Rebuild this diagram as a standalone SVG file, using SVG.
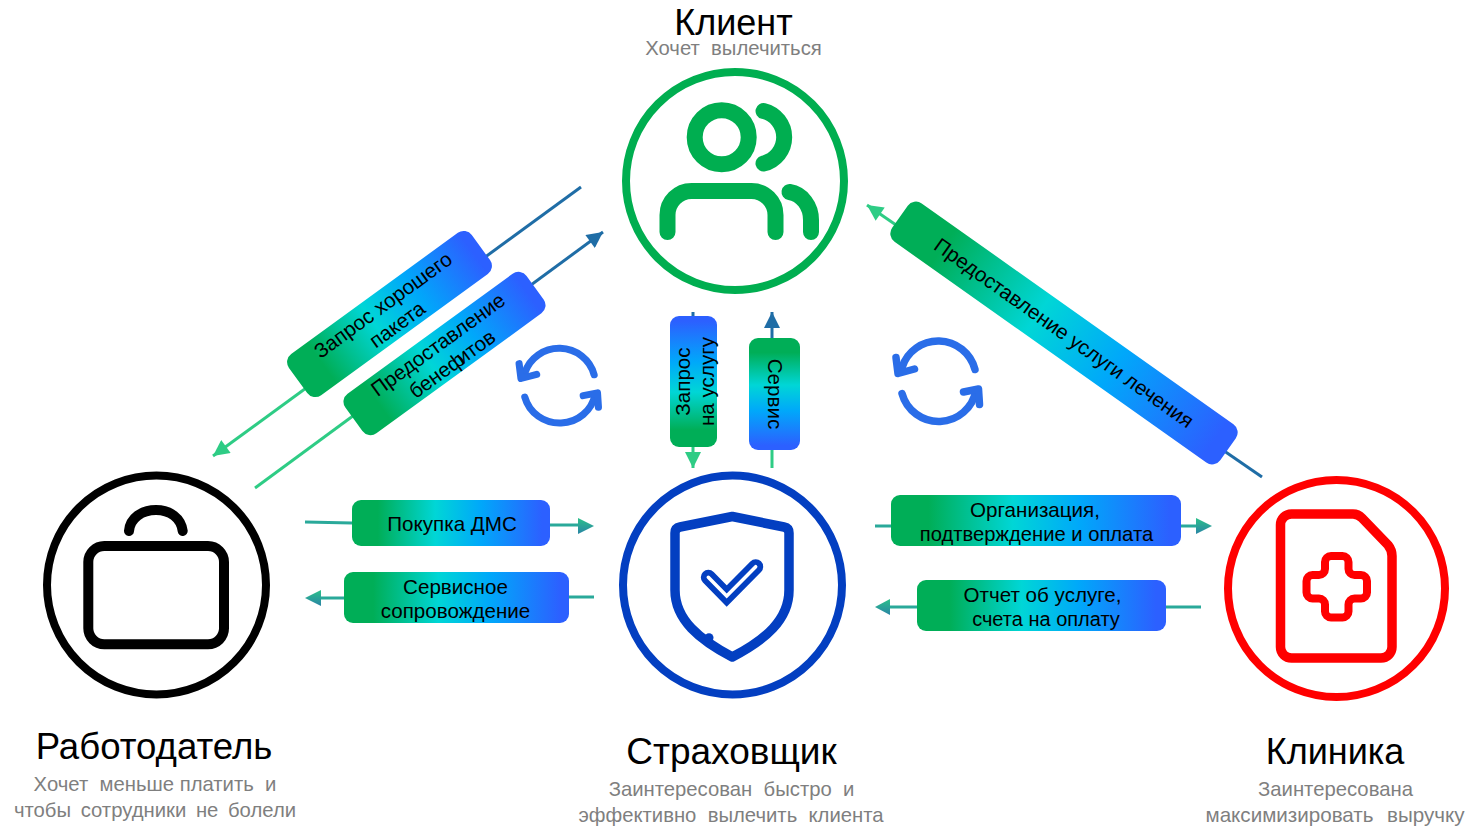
<svg xmlns="http://www.w3.org/2000/svg" width="1470" height="827" viewBox="0 0 1470 827">
<style>
text{font-family:"Liberation Sans",Arial,sans-serif;white-space:pre}
.title{font-size:36px;fill:#000;text-anchor:middle}
.sub{font-size:20.3px;fill:#7f7f7f;text-anchor:middle}
.lab{font-size:20.6px;fill:#000;text-anchor:middle}
.ring{fill:none;stroke-width:8}
.ico{fill:none;stroke-linecap:round;stroke-linejoin:round}
.pill{fill:url(#pg)}
.sync{fill:none;stroke:#2a6de8;stroke-width:7.5;stroke-linecap:round;stroke-linejoin:round}
.c{fill:none;stroke-width:3}
</style>
<defs>
<linearGradient id="pg" x1="0" y1="0" x2="1" y2="0">
<stop offset="0.13" stop-color="#00AE57"/><stop offset="0.42" stop-color="#00D6D6"/><stop offset="0.65" stop-color="#00A8FA"/><stop offset="0.96" stop-color="#2C60FF"/>
</linearGradient>
<linearGradient id="ph" x1="0" y1="0" x2="0" y2="1"><stop offset="0" stop-color="#2CC08A"/><stop offset="1" stop-color="#2A85A5"/></linearGradient>
<linearGradient id="g1" gradientUnits="userSpaceOnUse" x1="581" y1="187" x2="213" y2="456"><stop offset="0.3" stop-color="#1F6DA6"/><stop offset="0.7" stop-color="#2ECC85"/></linearGradient>
<linearGradient id="g2" gradientUnits="userSpaceOnUse" x1="603" y1="232" x2="255" y2="488"><stop offset="0.3" stop-color="#1F6DA6"/><stop offset="0.7" stop-color="#2ECC85"/></linearGradient>
<linearGradient id="g3" gradientUnits="userSpaceOnUse" x1="1262" y1="477" x2="867" y2="205"><stop offset="0.2" stop-color="#1F6DA6"/><stop offset="0.8" stop-color="#2ECC85"/></linearGradient>
<linearGradient id="g4" gradientUnits="userSpaceOnUse" x1="0" y1="312" x2="0" y2="468"><stop offset="0.3" stop-color="#1F6DA6"/><stop offset="0.7" stop-color="#2ECC85"/></linearGradient>
<marker id="mG" markerUnits="userSpaceOnUse" markerWidth="18" markerHeight="16" refX="17" refY="8" orient="auto"><path d="M1 0L17 8L1 16Z" fill="#2ECC85"/></marker>
<marker id="mB" markerUnits="userSpaceOnUse" markerWidth="18" markerHeight="16" refX="17" refY="8" orient="auto"><path d="M1 0L17 8L1 16Z" fill="#1F6DA6"/></marker>
<g id="syncIcon" class="sync">
<path d="M37 -11A38 38 0 0 0 -36 -13"/><path d="M-42 -23L-40 -7L-23.500 -11.500"/>
<path d="M-36 13A38 38 0 0 0 38 10"/><path d="M25.500 11.500L40.500 8.500L41.500 24"/>
</g>
</defs>
<rect width="1470" height="827" fill="#fff"/>
<g id="connectors">
<path class="c" stroke="url(#g1)" d="M581 187L213 456" marker-end="url(#mG)"/>
<path class="c" stroke="url(#g2)" d="M255 488L603 232" marker-end="url(#mB)"/>
<path class="c" stroke="url(#g3)" d="M1262 477L867 205" marker-end="url(#mG)"/>
<path class="c" stroke="url(#g4)" d="M693 312V468" marker-end="url(#mG)"/>
<path class="c" stroke="url(#g4)" d="M772 468V312" marker-end="url(#mB)"/>
<g fill="none" stroke="#2AA99A" stroke-width="3">
<path d="M305 522L352 523M550 525H580"/><path d="M594 597H569M344 598H319"/><path d="M875 526H1198"/><path d="M1201 607H888"/>
</g>
<g fill="url(#ph)">
<path d="M594 526L578 518V534Z"/><path d="M305 598L321 590V606Z"/><path d="M1212 526L1196 518V534Z"/><path d="M875 607L890 599V615Z"/>
</g>
</g>
<g id="sync-left"><use href="#syncIcon" transform="translate(559 385) scale(0.95 0.93)"/></g>
<g id="sync-right"><use href="#syncIcon" x="938" y="380.500"/></g>
<g id="client">
<circle class="ring" cx="735" cy="181" r="109" stroke="#00AE50"/>
<g class="ico" stroke="#00AE50" stroke-width="16">
<circle cx="721.700" cy="137.300" r="27"/>
<path d="M763.500 111A27 27 0 0 1 763.500 163.500"/>
<path d="M667.500 232V215A24 24 0 0 1 691.500 191H751.500A24 24 0 0 1 775.500 215V232"/>
<path d="M789.500 192C802 194 811 206 811 220V232"/>
</g>
<text class="title" x="733.500" y="35">Клиент</text>
<text class="sub" x="733.500" y="55">Хочет  вылечиться</text>
</g>
<g id="insurer">
<circle class="ring" cx="732.500" cy="585" r="109.500" stroke="#033FC1"/>
<g class="ico" stroke="#033FC1">
<path stroke-width="9.500" d="M732.300 516.500L680 527Q675 528 675 533V590C675 620 700 640 732.300 657C765 640 789 620 789 590V533Q789 528 784 527Z"/>
<path stroke-width="15" stroke-linejoin="miter" d="M708.300 577.300L726.700 596L755.700 566.700"/>
<path stroke-width="3.500" stroke="#fff" stroke-linejoin="miter" d="M708.300 577.300L726.700 596L755.700 566.700"/>
</g>
<circle cx="709" cy="637.700" r="4.500" fill="#033FC1"/>
<text class="title" style="font-size:37px" x="731.500" y="764">Страховщик</text>
<text class="sub" x="731.500" y="796">Заинтересован  быстро  и</text>
<text class="sub" x="731" y="822">эффективно  вылечить  клиента</text>
</g>
<g id="employer">
<circle class="ring" cx="156.500" cy="585" r="109.500" stroke="#000"/>
<g class="ico" stroke="#000" stroke-width="10">
<rect x="88.300" y="546" width="135.700" height="98.300" rx="16"/>
<path d="M129 531C130 518 142 510 156 510C170 510 181 518 182.700 531"/>
</g>
<text class="title" style="font-size:36.600px" x="154" y="759">Работодатель</text>
<text class="sub" x="155" y="791">Хочет  меньше платить  и</text>
<text class="sub" style="word-spacing:4px" x="155" y="817">чтобы сотрудники не болели</text>
</g>
<g id="clinic">
<circle class="ring" cx="1336.500" cy="588.500" r="108.500" stroke="#FF0000"/>
<g class="ico" stroke="#FF0000">
<path stroke-width="9.500" d="M1291.500 514H1353Q1358 514 1362 518L1388 545Q1392 550 1392 556V647A11 11 0 0 1 1381 658H1291.500A11 11 0 0 1 1280.500 647V525A11 11 0 0 1 1291.500 514Z"/>
<path stroke-width="8" d="M1331 556H1342.500A6 6 0 0 1 1348.500 562V569A6 6 0 0 0 1354.500 575H1361A6 6 0 0 1 1367 581V592.500A6 6 0 0 1 1361 598.500H1354.500A6 6 0 0 0 1348.500 604.500V611.500A6 6 0 0 1 1342.500 617.500H1331A6 6 0 0 1 1325 611.500V604.500A6 6 0 0 0 1319 598.500H1312.500A6 6 0 0 1 1306.500 592.500V581A6 6 0 0 1 1312.500 575H1319A6 6 0 0 0 1325 569V562A6 6 0 0 1 1331 556Z"/>
</g>
<text class="title" x="1335" y="764">Клиника</text>
<text class="sub" x="1335.500" y="796">Заинтересована</text>
<text class="sub" style="font-size:20.600px;word-spacing:1px" x="1335" y="822">максимизировать  выручку</text>
</g>
<g id="label-request-package" transform="translate(389.500 314) rotate(-36)">
<rect class="pill" x="-113" y="-25.500" width="226" height="51" rx="10"/>
<text class="lab" x="0" y="-4">Запрос хорошего</text><text class="lab" x="0" y="20">пакета</text>
</g>
<g id="label-benefits" transform="translate(444.500 353.500) rotate(-36)">
<rect class="pill" x="-112" y="-24.500" width="224" height="49" rx="10"/>
<text class="lab" x="0" y="-4">Предоставление</text><text class="lab" x="0" y="20">бенеф<tspan dx="-5">итов</tspan></text>
</g>
<g id="label-treatment" transform="translate(1064 333) rotate(35.300)">
<rect class="pill" x="-201" y="-23.500" width="402" height="47" rx="10"/>
<text class="lab" x="0" y="7">Предоставление услуги лечения</text>
</g>
<g id="label-service-request" transform="translate(693.500 381.500) rotate(-90)">
<rect class="pill" x="-65.500" y="-23.500" width="131" height="47" rx="9"/>
<text class="lab" x="0" y="-4">Запрос</text><text class="lab" x="0" y="20">на услугу</text>
</g>
<g id="label-service" transform="translate(774.500 394) rotate(90)">
<rect class="pill" x="-56" y="-25.500" width="112" height="51" rx="9"/>
<text class="lab" x="0" y="7">Сервис</text>
</g>
<g id="label-purchase">
<rect class="pill" x="352" y="500" width="198" height="46" rx="9"/>
<text class="lab" x="452" y="531">Покупка ДМС</text>
</g>
<g id="label-support">
<rect class="pill" x="344" y="572" width="225" height="51" rx="9"/>
<text class="lab" x="455.500" y="594">Сервисное</text><text class="lab" x="455.500" y="618">сопровождение</text>
</g>
<g id="label-organization">
<rect class="pill" x="891" y="495" width="290" height="51" rx="9"/>
<text class="lab" x="1035" y="517">Организация,</text><text class="lab" style="font-size:20.200px" x="1036.500" y="541">подтверждение и оплата</text>
</g>
<g id="label-report">
<rect class="pill" x="917" y="580" width="249" height="51" rx="9"/>
<text class="lab" x="1042.500" y="602">Отчет об услуге,</text><text class="lab" style="font-size:20px" x="1046" y="626">счета на оплату</text>
</g>
</svg>
